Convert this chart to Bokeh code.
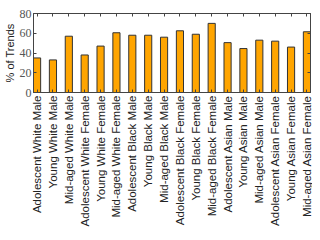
from math import pi
from bokeh.plotting import figure
from bokeh.models import Range1d, FixedTicker, LinearAxis, ColumnDataSource
from bokeh.embed import file_html
from bokeh.resources import INLINE

categories = ["Adolescent White Male", "Young White Male", "Mid-aged White Male",
              "Adolescent White Female", "Young White Female", "Mid-aged White Female",
              "Adolescent Black Male", "Young Black Male", "Mid-aged Black Male",
              "Adolescent Black Female", "Young Black Female", "Mid-aged Black Female",
              "Adolescent Asian Male", "Young Asian Male", "Mid-aged Asian Male",
              "Adolescent Asian Female", "Young Asian Female", "Mid-aged Asian Female"]
values = [35, 33, 57, 38, 47, 60.5, 58, 58, 56, 62.5, 59, 70, 50.5, 44.5, 53, 52, 46, 61.5]
y_ticks = [0, 20, 40, 60, 80]

xs = list(range(len(categories)))
src = ColumnDataSource(dict(x=xs, top=values))

p = figure(width=312, height=232, output_backend="svg", toolbar_location=None,
           x_range=Range1d(-0.225, len(categories) - 1 + 0.225), y_range=Range1d(0, 80),
           min_border_left=26, min_border_right=2, min_border_top=13, min_border_bottom=140)
p.grid.visible = False
p.outline_line_color = "#444444"
p.background_fill_color = "white"
p.border_fill_color = "white"

p.vbar(x="x", top="top", width=0.45, bottom=0, source=src,
       fill_color="#FFA500", line_color="#333333", line_width=1)

xa = p.xaxis[0]
xa.ticker = FixedTicker(ticks=xs)
xa.major_label_overrides = {i: c for i, c in enumerate(categories)}
xa.major_label_orientation = pi / 2
xa.major_label_text_font = "Liberation Sans"
xa.major_label_text_font_size = "11.5px"
xa.major_label_text_color = "#222222"
xa.major_label_standoff = 3
xa.major_tick_in = 3
xa.major_tick_out = 0
xa.minor_tick_line_color = None
xa.axis_line_color = "#444444"
xa.major_tick_line_color = "#444444"

ya = p.yaxis[0]
ya.ticker = FixedTicker(ticks=y_ticks)
ya.major_label_text_font = "Liberation Serif"
ya.major_label_text_font_size = "12px"
ya.major_label_text_color = "#555555"
ya.major_label_standoff = 2
ya.major_tick_in = 3
ya.major_tick_out = 0
ya.minor_tick_line_color = None
ya.axis_line_color = "#444444"
ya.major_tick_line_color = "#444444"
ya.axis_label = "% of Trends"
ya.axis_label_text_font = "Liberation Sans"
ya.axis_label_text_font_style = "normal"
ya.axis_label_text_font_size = "11px"
ya.axis_label_text_color = "#222222"
ya.axis_label_standoff = 1

ra = LinearAxis(ticker=FixedTicker(ticks=y_ticks),
                major_label_overrides={t: "" for t in y_ticks},
                major_tick_in=3, major_tick_out=0, minor_tick_line_color=None,
                axis_line_color="#444444", major_tick_line_color="#444444")
p.add_layout(ra, "right")
ta = LinearAxis(ticker=FixedTicker(ticks=xs),
                major_label_overrides={i: "" for i in xs},
                major_tick_in=3, major_tick_out=0, minor_tick_line_color=None,
                axis_line_color="#444444", major_tick_line_color="#444444")
p.add_layout(ta, "above")

open("out.html", "w").write(file_html(p, INLINE))
